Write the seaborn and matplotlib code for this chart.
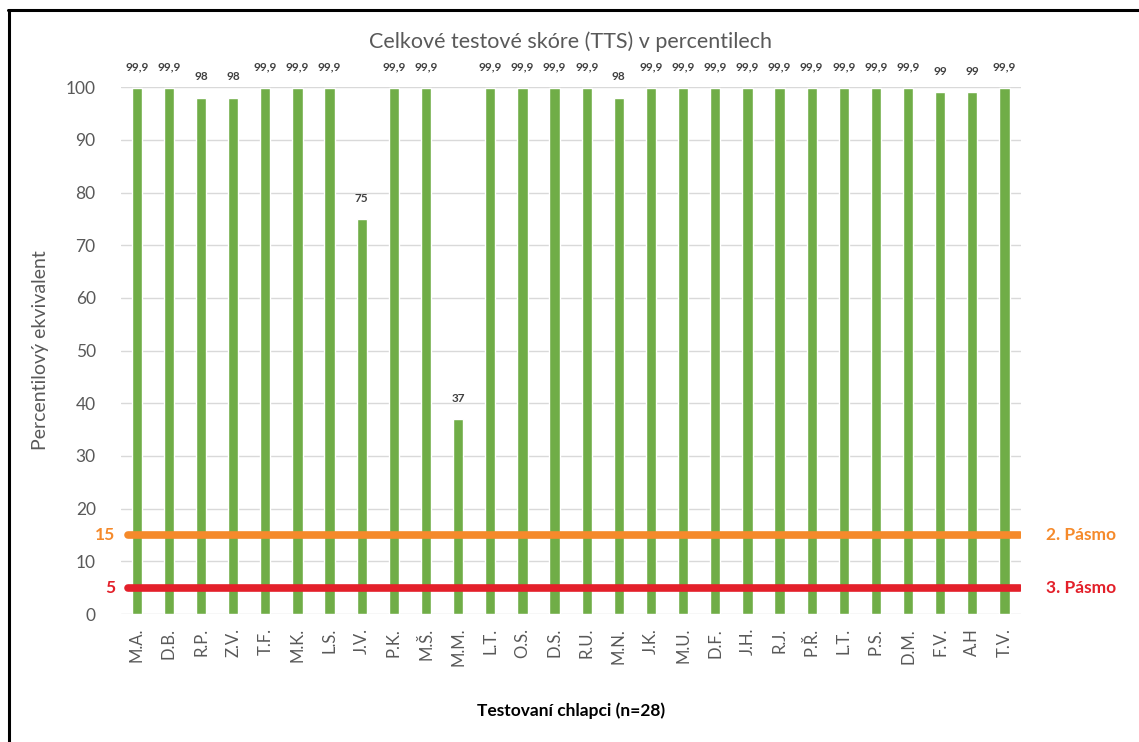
import matplotlib
matplotlib.use("Agg")
import matplotlib.pyplot as plt
import seaborn as sns
import pandas as pd

# Participants (initials) and their total test score percentiles
initials = ["M.A.", "D.B.", "R.P.", "Z.V.", "T.F.", "M.K.", "L.S.", "J.V.", "P.K.", "M.Š.",
            "M.M.", "L.T.", "O.S.", "D.S.", "R.U.", "M.N.", "J.K.", "M.U.", "D.F.", "J.H.",
            "R.J.", "P.Ř.", "L.T. ", "P.S.", "D.M.", "F.V.", "A.H", "T.V."]
percentiles = [99.9, 99.9, 98, 98, 99.9, 99.9, 99.9, 75, 99.9, 99.9,
               37, 99.9, 99.9, 99.9, 99.9, 98, 99.9, 99.9, 99.9, 99.9,
               99.9, 99.9, 99.9, 99.9, 99.9, 99, 99, 99.9]

# Threshold bands
band_values = [15, 5]
band_names = ["2. Pásmo", "3. Pásmo"]
band_colors = ["#F58A2B", "#E3202A"]

y_ticks = list(range(0, 101, 10))

sns.set_theme(style="white")
plt.rcParams["font.family"] = ["Lato", "DejaVu Sans"]

df = pd.DataFrame({"name": initials, "value": percentiles})

fig = plt.figure(figsize=(11.39, 7.42), dpi=100)
ax = fig.add_axes([0.106, 0.1725, 0.790, 0.710])

sns.barplot(data=df, x="name", y="value", color="#70AD47", width=0.32,
            saturation=1, ax=ax, zorder=2)

n = len(initials)
ax.set_xlim(-0.5, n - 0.5)
ax.set_ylim(0, 100)
ax.set_yticks(y_ticks)
ax.yaxis.grid(True, color="#D9D9D9", linewidth=1.0, zorder=0)
ax.set_axisbelow(True)
for s in ax.spines.values():
    s.set_visible(False)

ax.tick_params(axis="y", length=0, pad=18, labelsize=12.5, labelcolor="#595959")
ax.tick_params(axis="x", length=0, pad=10, labelsize=12, labelcolor="#595959")
ax.set_xticks(range(n))
ax.set_xticklabels([t.strip() for t in initials], rotation=90)

# Value labels above each bar
for i, v in enumerate(percentiles):
    txt = f"{v:g}".replace(".", ",")
    ax.annotate(txt, (i, v), xytext=(0, 11), textcoords="offset points",
                ha="center", va="bottom", fontsize=8.5, fontweight="bold",
                color="#404040", annotation_clip=False)

# Band threshold lines with labels
for val, name, col in zip(band_values, band_names, band_colors):
    ax.hlines(val, -0.28, n - 0.53, colors=col, linewidth=5.5, capstyle="round", zorder=3)
    ax.annotate(str(val), (-0.5, val), xytext=(-4, 0), textcoords="offset points",
                ha="right", va="center", fontsize=12.5, color=col, fontweight="bold",
                annotation_clip=False)
    ax.annotate(name, (n - 0.5, val), xytext=(18, 0), textcoords="offset points",
                ha="left", va="center", fontsize=12.5, color=col, fontweight="bold",
                annotation_clip=False)

ax.set_title("Celkové testové skóre (TTS) v percentilech", fontsize=15.5,
             color="#595959", pad=28)
ax.set_ylabel("Percentilový ekvivalent", fontsize=14, color="#595959", labelpad=12)
ax.set_xlabel("Testovaní chlapci (n=28)", fontsize=12.5, fontweight="bold",
              color="#000000", labelpad=26)

# Frame lines along top and left edge of the figure
fig.add_artist(plt.Line2D([0.007, 1.0], [0.987, 0.987], color="black", linewidth=2.2,
                          transform=fig.transFigure))
fig.add_artist(plt.Line2D([0.008, 0.008], [0.0, 0.987], color="black", linewidth=2.2,
                          transform=fig.transFigure))

fig.savefig("out.png", dpi=100)
